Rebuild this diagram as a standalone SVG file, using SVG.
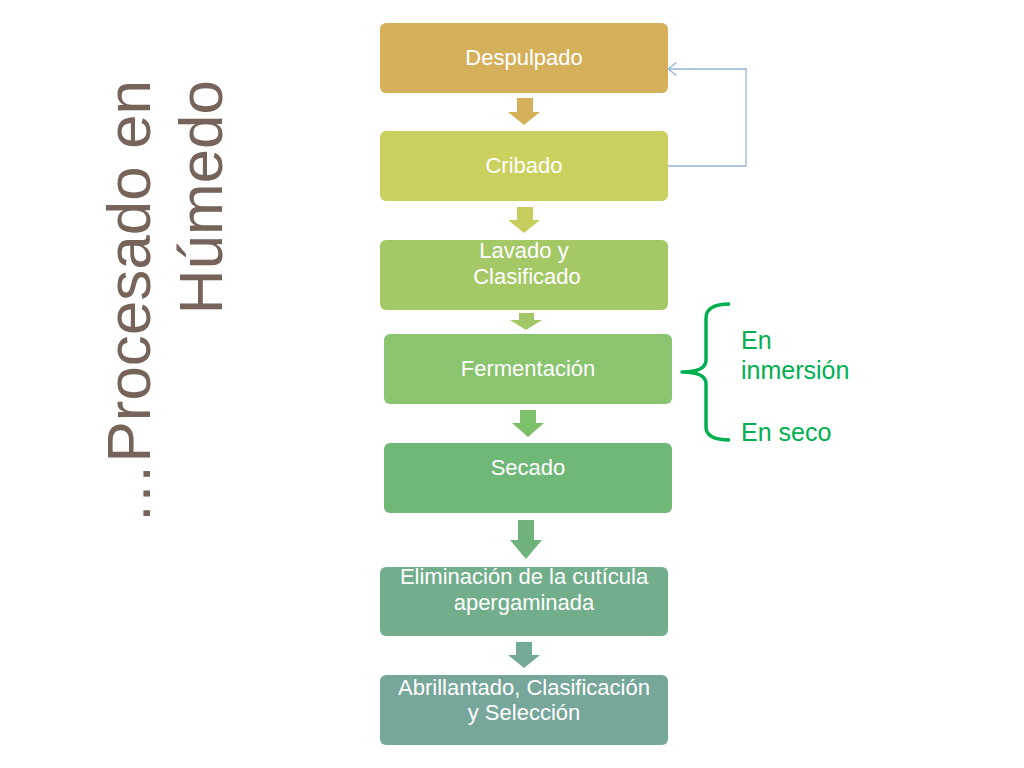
<svg xmlns="http://www.w3.org/2000/svg" width="1024" height="768" viewBox="0 0 1024 768">
<style>
.box{stroke:none}
.t{font-family:"Liberation Sans",Arial,sans-serif;font-size:22px;fill:#ffffff;text-anchor:middle}
.lbl{font-family:"Liberation Sans",Arial,sans-serif;font-size:25px;fill:#00b050}
.title{font-family:"Liberation Sans",Arial,sans-serif;font-size:62px;fill:#76635a;text-anchor:end}
.fb{fill:none;stroke:#95b3d7;stroke-width:1.3}
</style>
<defs>
<marker id="open" viewBox="0 0 10 14" refX="9.5" refY="7" markerWidth="10" markerHeight="14" markerUnits="userSpaceOnUse" orient="auto">
<path d="M1,0.5 L9.5,7 L1,13.5" fill="none" stroke="#95b3d7" stroke-width="1.3"/>
</marker>
</defs>
<rect width="1024" height="768" fill="#ffffff"/>

<g id="title">
<text class="title" transform="translate(150,80) rotate(-90)">…Procesado en</text>
<text class="title" transform="translate(222,80) rotate(-90)">Húmedo</text>
</g>

<g id="n1">
<rect class="box" x="380" y="23" width="288" height="70" rx="6" fill="#d5b05a"/>
<text class="t" x="524" y="65">Despulpado</text>
</g>
<g id="n2">
<rect class="box" x="380" y="131" width="288" height="70" rx="6" fill="#cbd05f"/>
<text class="t" x="524" y="173">Cribado</text>
</g>
<g id="n3">
<rect class="box" x="380" y="240" width="288" height="70" rx="6" fill="#a5c867"/>
<text class="t" x="524" y="258">Lavado y</text>
<text class="t" x="527" y="284">Clasificado</text>
</g>
<g id="n4">
<rect class="box" x="384" y="334" width="288" height="70" rx="6" fill="#8ac46e"/>
<text class="t" x="528" y="376">Fermentación</text>
</g>
<g id="n5">
<rect class="box" x="384" y="443" width="288" height="70" rx="6" fill="#70b877"/>
<text class="t" x="528" y="475">Secado</text>
</g>
<g id="n6">
<rect class="box" x="380" y="567" width="288" height="69" rx="6" fill="#72ae8b"/>
<text class="t" x="524" y="584">Eliminación de la cutícula</text>
<text class="t" x="524" y="610">apergaminada</text>
</g>
<g id="n7">
<rect class="box" x="380" y="675" width="288" height="70" rx="6" fill="#77a69a"/>
<text class="t" x="524" y="695">Abrillantado, Clasificación</text>
<text class="t" x="524" y="720">y Selección</text>
</g>

<g id="connectors">
<polygon fill="#d5b05a" points="517,98 533,98 533,112 540,112 524,125 508,112 517,112"/>
<polygon fill="#c6cd5c" points="517,207 533,207 533,220 540,220 524,233 508,220 517,220"/>
<polygon fill="#a2c866" points="519,313 534,313 534,320 542,320 526,330 510,320 519,320"/>
<polygon fill="#7fc06d" points="520,410 536,410 536,423 544,423 528,437 512,423 520,423"/>
<polygon fill="#6fb27b" points="518,520 534,520 534,540 542,540 526,559 510,540 518,540"/>
<polygon fill="#74a998" points="516,642 532,642 532,655 540,655 524,668 508,655 516,655"/>
<path class="fb" d="M668,166 H746 V69 H668" marker-end="url(#open)"/>
<path d="M730,304 Q706,304 706,318 V360 Q706,372 682,372 Q706,372 706,384 V427 Q706,440 730,440" fill="none" stroke="#00b050" stroke-width="3.5" stroke-linejoin="round"/>
</g>

<g id="labels">
<text class="lbl" x="741" y="349">En</text>
<text class="lbl" x="741" y="379">inmersión</text>
<text class="lbl" x="741" y="441">En seco</text>
</g>
</svg>
